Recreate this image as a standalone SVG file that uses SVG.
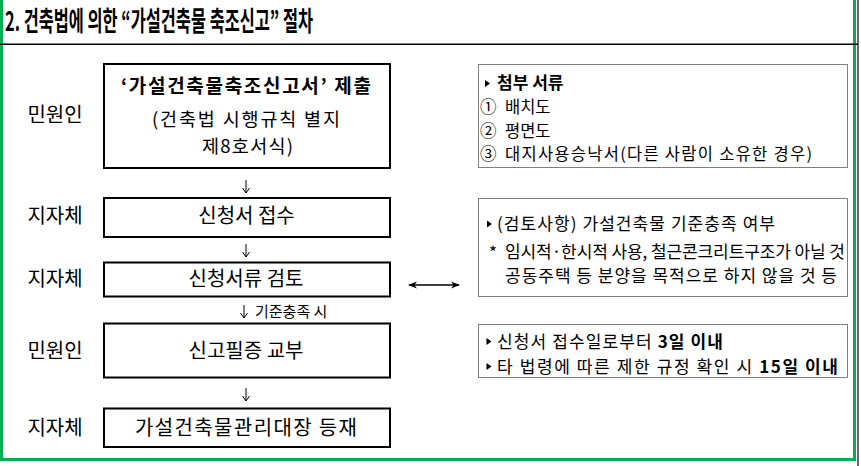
<svg xmlns="http://www.w3.org/2000/svg" width="861" height="466" viewBox="0 0 861 466">
<defs>
<style>
text{font-family:"Noto Sans CJK KR","Noto Sans",sans-serif;fill:#000}
.title{font-size:27px;font-weight:bold}
.lbl{font-size:20px;text-anchor:middle}
.bt{font-size:20px;text-anchor:middle}
.bt2{font-size:18.5px;text-anchor:middle}
.bb{font-size:19px;font-weight:bold;text-anchor:middle}
.rt{font-size:17px}
.ra{font-size:16.5px}
.sm{font-size:15px}
.b{font-weight:bold}
.box{fill:#fff;stroke:#000;stroke-width:2}
.dot{fill:none;stroke:#000;stroke-width:1;stroke-dasharray:1 1}
.arr{fill:none;stroke:#000;stroke-width:1}
</style>
<polygon id="tri" points="0,0 5,3.5 0,7" fill="#000"/>
<marker id="ah" viewBox="0 0 10 10" refX="9" refY="5" markerWidth="9" markerHeight="9" markerUnits="userSpaceOnUse" orient="auto-start-reverse">
<path d="M0,1 L10,5 L0,9 L3,5 Z" fill="#000"/>
</marker>
</defs>
<rect width="861" height="466" fill="#fff"/>
<g id="frame">
<rect x="1.5" y="-3" width="853" height="462.5" fill="none" stroke="#00b050" stroke-width="3"/>
<line x1="858" y1="0" x2="858" y2="466" stroke="#000" stroke-width="1.2"/>
<line x1="0" y1="44.3" x2="858" y2="44.3" stroke="#000" stroke-width="1.5"/>
</g>
<g id="title">
<text class="title" x="5" y="31" textLength="308" lengthAdjust="spacingAndGlyphs">2. 건축법에 의한  “가설건축물 축조신고” 절차</text>
</g>
<g id="labels">
<text class="lbl" x="55" y="122">민원인</text>
<text class="lbl" x="55" y="222.5">지자체</text>
<text class="lbl" x="55" y="286">지자체</text>
<text class="lbl" x="55" y="357.5">민원인</text>
<text class="lbl" x="55" y="434.5">지자체</text>
</g>
<g id="n1">
<rect class="box" x="104" y="64" width="286" height="104"/>
<text class="bb" x="246" y="93" textLength="250">‘가설건축물축조신고서’ 제출</text>
<text class="bt2" x="246" y="125.5" textLength="188">(건축법 시행규칙 별지</text>
<text class="bt2" x="247.5" y="152.5" textLength="91">제8호서식)</text>
</g>
<g id="n2">
<rect class="box" x="104" y="198" width="286" height="39"/>
<text class="bt" x="246.5" y="222.5">신청서 접수</text>
</g>
<g id="n3">
<rect class="box" x="104" y="262.5" width="286" height="34"/>
<text class="bt" x="246" y="286">신청서류 검토</text>
</g>
<g id="n4">
<rect class="box" x="104" y="323.5" width="286" height="54"/>
<text class="bt" x="246" y="357.5">신고필증 교부</text>
</g>
<g id="n5">
<rect class="box" x="104" y="408.5" width="286" height="38.5"/>
<text class="bt" x="246" y="434.5" textLength="222">가설건축물관리대장 등재</text>
</g>
<g id="noteA">
<rect class="dot" x="478.5" y="64.5" width="369" height="103"/>
<use href="#tri" x="485" y="80"/>
<text class="rt b" x="497" y="89">첨부 서류</text>
<text class="ra" x="480" y="113">①</text>
<text class="ra" x="505" y="113">배치도</text>
<text class="ra" x="480" y="136.5">②</text>
<text class="ra" x="505" y="136.5">평면도</text>
<text class="ra" x="480" y="160">③</text>
<text class="ra" x="505" y="160" textLength="307">대지사용승낙서(다른 사람이 소유한 경우)</text>
</g>
<g id="noteB">
<rect class="dot" x="478.5" y="198.5" width="369" height="98"/>
<use href="#tri" x="487" y="220.5"/>
<text class="rt" x="497" y="229.5" textLength="278">(검토사항) 가설건축물 기준충족 여부</text>
<text class="rt" x="489" y="259">*</text>
<text class="rt" x="505" y="257.5" textLength="340">임시적·한시적 사용, 철근콘크리트구조가 아닐 것</text>
<text class="rt" x="505" y="281.5" textLength="332">공동주택 등 분양을 목적으로 하지 않을 것 등</text>
</g>
<g id="noteC">
<rect class="dot" x="478.5" y="324.5" width="369" height="53"/>
<use href="#tri" x="486.5" y="338"/>
<text class="rt" x="497" y="347.5" textLength="226">신청서 접수일로부터 <tspan class="b">3일 이내</tspan></text>
<use href="#tri" x="486.5" y="363"/>
<text class="rt" x="497" y="372.5" textLength="341">타 법령에 따른 제한 규정 확인 시 <tspan class="b">15일 이내</tspan></text>
</g>
<g id="connectors">
<path class="arr" d="M246,180 V193 M242.5,188 L246,193 L249.5,188"/>
<path class="arr" d="M246,244 V257 M242.5,252 L246,257 L249.5,252"/>
<path class="arr" d="M244,305 V318 M240.5,313 L244,318 L247.5,313"/>
<path class="arr" d="M246,388 V401 M242.5,396 L246,401 L249.5,396"/>
<line x1="409" y1="285" x2="459" y2="285" stroke="#000" stroke-width="1.3" marker-start="url(#ah)" marker-end="url(#ah)"/>
<text class="sm" x="255" y="317">기준충족 시</text>
</g>
</svg>
